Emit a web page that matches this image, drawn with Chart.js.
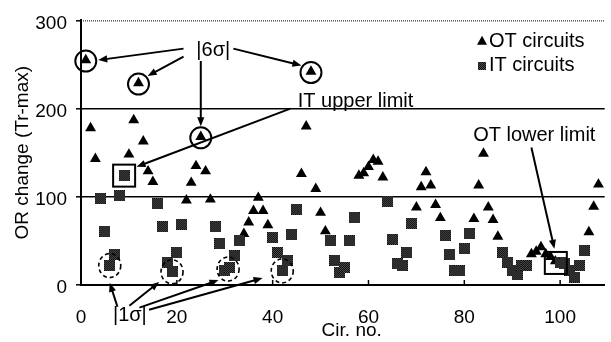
<!DOCTYPE html>
<html><head><meta charset="utf-8">
<script src="https://cdn.jsdelivr.net/npm/chart.js@4/dist/chart.umd.min.js"></script>
<style>html,body{margin:0;padding:0;background:#fff;}#wrap{width:611px;height:342px;position:relative;}</style>
</head><body><div id="wrap"><canvas id="c" width="611" height="342"></canvas></div>
<script>
// ---- data ----
const otCircuit = [1,2,3, 10,11,12,13,14,15, 22,23,24,25,26,27, 34,35,36,37,38,39, 46,47,48,49,50,51, 58,59,60,61,62,63, 70,71,72,73,74,75, 82,83,84,85,86,87, 94,95,96,97,98,99, 106,107,108];
const otChange  = [255,178,143, 148,187,229,163,129,117, 96,116,135,168,129,97, 58,71,84,99,84,68, 126,180,242,109,82,61, 124,127,134,142,140,122, 88,111,128,113,91,76, 75,113,149,88,74,55, 35,38,43,35,32,27, 60,89,114];
const itCircuit = [4,5,6,7,8,9, 16,17,18,19,20,21, 28,29,30,31,32,33, 40,41,42,43,44,45, 52,53,54,55,56,57, 64,65,66,67,68,69, 76,77,78,79,80,81, 88,89,90,91,92,93, 100,101,102,103,104,105];
const itChange  = [98,61,22,35,101,124, 92,66,26,15,37,69, 66,47,17,20,33,50, 54,37,16,28,57,86, 50,28,14,20,50,76, 95,52,24,22,37,70, 56,35,17,16,41,58, 37,26,17,12,22,22, 26,24,17,9,22,39];
const xTickValues = [0,20,40,60,80,100];
const yTickValues = [0,100,200,300];
const seriesNames = ['OT circuits','IT circuits'];
const xTitle = 'Cir. no.';
const yTitle = 'OR change (Tr-max)';

// ---- annotations (in data units) ----
const sixSigma = { label:'|6σ|', at:[27.6,266],
  rings:[[1,255],[12,229],[25,168],[48,242]],
  arrows:[[[21.4,268],[3.6,255]], [[21.4,259],[13.9,237]], [[25,254],[25,180]], [[31.8,268],[46,249]]] };
const itUpper = { label:'IT upper limit', at:[57.3,208], box:[9,124],
  arrows:[[[43.7,200],[11.6,134]]] };
const otLower = { label:'OT lower limit', at:[94.6,170], box:[99.1,25],
  arrows:[[[94,156],[98.8,41]]] };
const oneSigma = { label:'|1σ|', at:[10.2,-35],
  rings:[[6,22],[19,15],[30.7,18],[42,16]],
  arrows:[[[7.6,-24.6],[6,2.5]], [[10.1,-23.5],[16.3,3.4]], [[12.2,-25.7],[28.7,5.6]], [[14.2,-28],[37.9,7.8]]] };

const FONT = '"Liberation Sans", Arial, sans-serif';

// checkered marker for IT circuits
function makePattern(n){
  const cv = document.createElement('canvas'); cv.width = n; cv.height = n;
  const g = cv.getContext('2d');
  for(let i=0;i<n;i++) for(let j=0;j<n;j++){
    g.fillStyle = ((i+j)%2===0) ? '#000' : '#5a5a5a';
    g.fillRect(i,j,1,1);
  }
  return cv;
}
const itMark = makePattern(11);
const itLegendMark = makePattern(8);

function arrow(ctx, x1,y1,x2,y2){
  const a = Math.atan2(y2-y1, x2-x1), L = 9, W = 3.6;
  ctx.beginPath(); ctx.moveTo(x1,y1); ctx.lineTo(x2 - Math.cos(a)*L*0.8, y2 - Math.sin(a)*L*0.8); ctx.stroke();
  ctx.beginPath();
  ctx.moveTo(x2,y2);
  ctx.lineTo(x2 - Math.cos(a)*L - Math.sin(a)*W, y2 - Math.sin(a)*L + Math.cos(a)*W);
  ctx.lineTo(x2 - Math.cos(a)*L + Math.sin(a)*W, y2 - Math.sin(a)*L - Math.cos(a)*W);
  ctx.closePath(); ctx.fill();
}

const notesPlugin = {
  id:'notes',
  afterDraw(chart){
    const {ctx, chartArea:ca, scales:{x, y}} = chart;
    const P = d => [x.getPixelForValue(d[0]), y.getPixelForValue(d[1])];
    ctx.save();
    ctx.strokeStyle = '#000'; ctx.fillStyle = '#000';
    // dotted top border
    ctx.lineWidth = 1; ctx.setLineDash([1,1]);
    const yt = y.getPixelForValue(300);
    ctx.beginPath(); ctx.moveTo(ca.left, yt+0.5); ctx.lineTo(ca.right, yt+0.5); ctx.stroke();
    ctx.setLineDash([]);
    // inward x ticks
    ctx.lineWidth = 1.5;
    xTickValues.forEach(v => { if(v===0) return; const px = x.getPixelForValue(v);
      ctx.beginPath(); ctx.moveTo(px, ca.bottom); ctx.lineTo(px, ca.bottom-5); ctx.stroke(); });
    // texts
    ctx.font = '20px ' + FONT; ctx.textAlign = 'center'; ctx.textBaseline = 'middle';
    [sixSigma, itUpper, otLower, oneSigma].forEach(n => { const p = P(n.at); ctx.fillText(n.label, p[0], p[1]); });
    // arrows
    ctx.lineWidth = 2;
    [sixSigma, itUpper, otLower, oneSigma].forEach(n => n.arrows.forEach(a => {
      const p1 = P(a[0]), p2 = P(a[1]); arrow(ctx, p1[0], p1[1], p2[0], p2[1]); }));
    // solid rings
    sixSigma.rings.forEach(r => { const p = P(r); ctx.beginPath(); ctx.arc(p[0], p[1]+1, 10.5, 0, Math.PI*2); ctx.stroke(); });
    // dashed rings
    ctx.lineWidth = 1.6; ctx.setLineDash([4,3]);
    oneSigma.rings.forEach(r => { const p = P(r); ctx.beginPath(); ctx.ellipse(p[0], p[1], 11, 12, 0, 0, Math.PI*2); ctx.stroke(); });
    ctx.setLineDash([]);
    // boxes
    ctx.lineWidth = 2;
    [itUpper, otLower].forEach(n => { const p = P(n.box); ctx.strokeRect(p[0]-11, p[1]-11, 22, 22); });
    // legend
    ctx.font = '20px ' + FONT; ctx.textAlign = 'left'; ctx.textBaseline = 'middle';
    const l1 = P([83.7, 276.5]), l2 = P([83.7, 248.5]);
    ctx.beginPath(); ctx.moveTo(l1[0], l1[1]-5.5); ctx.lineTo(l1[0]+5, l1[1]+3.5); ctx.lineTo(l1[0]-5, l1[1]+3.5); ctx.closePath(); ctx.fill();
    ctx.fillText(seriesNames[0], l1[0]+7, l1[1]);
    ctx.drawImage(itLegendMark, l2[0]-4, l2[1]-4, 8, 8);
    ctx.fillText(seriesNames[1], l2[0]+7, l2[1]);
    // axis titles
    ctx.font = '19px ' + FONT; ctx.textAlign = 'center';
    ctx.fillText(xTitle, x.getPixelForValue(56.5), 331);
    ctx.translate(23, (ca.top+ca.bottom)/2); ctx.rotate(-Math.PI/2);
    ctx.fillText(yTitle, 0, 0);
    ctx.restore();
  }
};

new Chart(document.getElementById('c'), {
  type:'scatter',
  data:{ datasets:[
    { label:seriesNames[0], data: otCircuit.map((c,i)=>({x:c, y:otChange[i]})),
      pointStyle:'triangle', pointRadius:6.3, backgroundColor:'#000', borderWidth:0, order:2 },
    { label:seriesNames[1], data: itCircuit.map((c,i)=>({x:c, y:itChange[i]})),
      pointStyle:itMark, pointRadius:5.5, backgroundColor:'#000', borderWidth:0, order:1 }
  ]},
  options:{
    responsive:false, animation:false, devicePixelRatio:1,
    layout:{ padding:{ top:16.5, right:0, left:0, bottom:0 } },
    plugins:{ legend:{display:false}, tooltip:{enabled:false} },
    scales:{
      x:{ type:'linear', min:0, max:109.3,
        afterBuildTicks: s => { s.ticks = xTickValues.map(v=>({value:v})); },
        afterFit: s => { s.height = 57; },
        grid:{ display:false },
        border:{ display:true, color:'#000', width:2 },
        ticks:{ color:'#000', font:{ family:FONT, size:19 }, padding:13, maxRotation:0, autoSkip:false } },
      y:{ type:'linear', min:0, max:300,
        afterBuildTicks: s => { s.ticks = yTickValues.map(v=>({value:v})); },
        afterFit: s => { s.width = 81; },
        grid:{ display:true, drawTicks:true, tickLength:5, tickColor:'#000', tickWidth:1.5,
          color: c => (c.tick && (c.tick.value===100 || c.tick.value===200)) ? '#000' : 'rgba(0,0,0,0)',
          lineWidth:1.6 },
        border:{ display:true, color:'#000', width:2 },
        ticks:{ color:'#000', font:{ family:FONT, size:19 }, padding:9, labelOffset:3 } }
    }
  },
  plugins:[notesPlugin]
});
</script></body></html>
